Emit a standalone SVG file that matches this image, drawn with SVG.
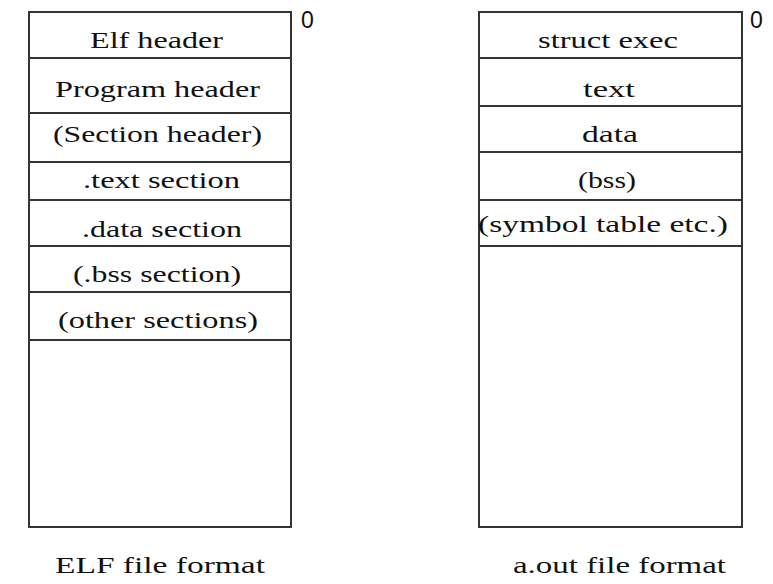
<svg xmlns="http://www.w3.org/2000/svg" width="773" height="584" viewBox="0 0 773 584">
<style>
.box{fill:#fff;stroke:#333;stroke-width:2}
.sep{stroke:#333;stroke-width:2}
.t{font-family:"Liberation Serif","Times New Roman",serif;font-size:23px;fill:#111}
.z{font-family:"Liberation Sans",Arial,sans-serif;font-size:23px;fill:#111}
</style>
<rect width="773" height="584" fill="#fff"/>
<g id="elf">
<rect class="box" x="29" y="12" width="262" height="515"/>
<g id="elf-lines">
<line class="sep" x1="29" y1="58" x2="291" y2="58"/>
<line class="sep" x1="29" y1="113" x2="291" y2="113"/>
<line class="sep" x1="29" y1="162" x2="291" y2="162"/>
<line class="sep" x1="29" y1="200" x2="291" y2="200"/>
<line class="sep" x1="29" y1="246" x2="291" y2="246"/>
<line class="sep" x1="29" y1="292" x2="291" y2="292"/>
<line class="sep" x1="29" y1="340" x2="291" y2="340"/>
</g>
<text class="t" x="90" y="48" textLength="133" lengthAdjust="spacingAndGlyphs">Elf header</text>
<text class="t" x="55" y="97" textLength="205" lengthAdjust="spacingAndGlyphs">Program header</text>
<text class="t" x="53" y="142" textLength="209" lengthAdjust="spacingAndGlyphs">(Section header)</text>
<text class="t" x="83" y="188" textLength="157" lengthAdjust="spacingAndGlyphs">.text section</text>
<text class="t" x="82" y="237" textLength="160" lengthAdjust="spacingAndGlyphs">.data section</text>
<text class="t" x="73" y="282" textLength="168" lengthAdjust="spacingAndGlyphs">(.bss section)</text>
<text class="t" x="58" y="328" textLength="200" lengthAdjust="spacingAndGlyphs">(other sections)</text>
<text class="z" x="301" y="28">0</text>
<text class="t" x="55" y="573" textLength="210" lengthAdjust="spacingAndGlyphs">ELF file format</text>
</g>
<g id="aout">
<rect class="box" x="479" y="12" width="263" height="515"/>
<g id="aout-lines">
<line class="sep" x1="479" y1="58" x2="742" y2="58"/>
<line class="sep" x1="479" y1="106" x2="742" y2="106"/>
<line class="sep" x1="479" y1="152" x2="742" y2="152"/>
<line class="sep" x1="479" y1="200" x2="742" y2="200"/>
<line class="sep" x1="479" y1="246" x2="742" y2="246"/>
</g>
<text class="t" x="538" y="48" textLength="140" lengthAdjust="spacingAndGlyphs">struct exec</text>
<text class="t" x="583" y="97" textLength="52" lengthAdjust="spacingAndGlyphs">text</text>
<text class="t" x="582" y="142" textLength="56" lengthAdjust="spacingAndGlyphs">data</text>
<text class="t" x="578" y="188" textLength="58" lengthAdjust="spacingAndGlyphs">(bss)</text>
<text class="t" x="478" y="232" textLength="250" lengthAdjust="spacingAndGlyphs">(symbol table etc.)</text>
<text class="z" x="750" y="28">0</text>
<text class="t" x="513" y="573" textLength="213" lengthAdjust="spacingAndGlyphs">a.out file format</text>
</g>
</svg>
